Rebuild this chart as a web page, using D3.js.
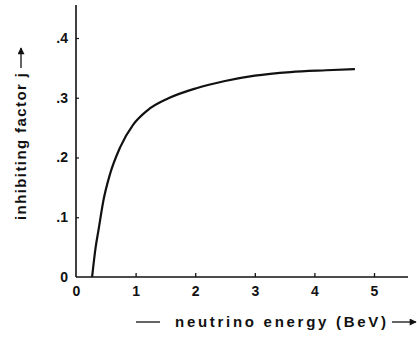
<html>
<style>
body { margin: 0; background: #fff; }
text { font-family: "Liberation Sans", Arial, sans-serif; fill: #111; }
</style>
<body>
<script src="https://d3js.org/d3.v7.min.js"></script>
<svg id="chart" width="417" height="344"></svg>
<script>
// neutrino energy (BeV) vs inhibiting factor j
var energy = [0.27, 0.33, 0.38, 0.46, 0.57, 0.74, 0.96, 1.2, 1.55, 2.02, 2.5, 3.0, 3.6, 4.2, 4.68];
var factor = [0.0, 0.05, 0.08, 0.128, 0.172, 0.217, 0.255, 0.279, 0.299, 0.316, 0.328, 0.337, 0.343, 0.346, 0.348];
var xTicks = [0, 1, 2, 3, 4, 5];
var yTicks = [0, 0.1, 0.2, 0.3, 0.4];
var yTickLabels = ["0", ".1", ".2", ".3", ".4"];

var svg = d3.select("#chart");
var x = d3.scaleLinear().domain([0, 5]).range([76, 374]);
var y = d3.scaleLinear().domain([0, 0.4]).range([277, 38]);

// axes lines
svg.append("line").attr("x1", 76).attr("x2", 408).attr("y1", y(0)).attr("y2", y(0))
  .attr("stroke", "#111").attr("stroke-width", 1.6);
svg.append("line").attr("x1", x(0)).attr("x2", x(0)).attr("y1", 5).attr("y2", y(0))
  .attr("stroke", "#111").attr("stroke-width", 1.6);

// x ticks
var xAxis = d3.axisBottom(x).tickValues(xTicks).tickSize(-4).tickFormat(d3.format("d"));
var gx = svg.append("g").attr("transform", "translate(0," + y(0) + ")").call(xAxis);
gx.select(".domain").remove();
gx.selectAll(".tick line").attr("stroke", "#111").attr("stroke-width", 1.3)
  .style("display", function(d) { return d == 0 ? "none" : null; });
gx.selectAll(".tick text").attr("y", 9).attr("font-size", 14).attr("font-weight", "bold")
  .attr("fill", "#111").attr("font-family", "Liberation Sans, Arial, sans-serif");

// y ticks
var yAxis = d3.axisLeft(y).tickValues(yTicks).tickSize(-3)
  .tickFormat(function(d, i) { return yTickLabels[i]; });
var gy = svg.append("g").attr("transform", "translate(" + x(0) + ",0)").call(yAxis);
gy.select(".domain").remove();
gy.selectAll(".tick line").attr("stroke", "#111").attr("stroke-width", 1.2)
  .style("display", function(d) { return d == 0 ? "none" : null; });
gy.selectAll(".tick text").attr("x", -8).attr("font-size", 14).attr("font-weight", "bold")
  .attr("fill", "#111").attr("font-family", "Liberation Sans, Arial, sans-serif");

// curve
var line = d3.line()
  .x(function(d, i) { return x(energy[i]); })
  .y(function(d) { return y(d); })
  .curve(d3.curveMonotoneX);
svg.append("path").datum(factor).attr("d", line)
  .attr("fill", "none").attr("stroke", "#111").attr("stroke-width", 2.2);

// arrow marker
svg.append("defs").append("marker").attr("id", "arr")
  .attr("viewBox", "0 0 10 10").attr("refX", 9).attr("refY", 5)
  .attr("markerWidth", 9).attr("markerHeight", 7).attr("markerUnits", "userSpaceOnUse")
  .attr("orient", "auto")
  .append("path").attr("d", "M0,0L10,5L0,10z").attr("fill", "#111");

// x label
svg.append("line").attr("x1", 136).attr("x2", 160).attr("y1", 322).attr("y2", 322)
  .attr("stroke", "#111").attr("stroke-width", 1.3);
svg.append("text").attr("x", 175).attr("y", 327).attr("font-size", 15).attr("font-weight", "bold")
  .attr("textLength", 211)
  .text("neutrino  energy (BeV)");
svg.append("line").attr("x1", 392).attr("x2", 416).attr("y1", 322).attr("y2", 322)
  .attr("stroke", "#111").attr("stroke-width", 1.3).attr("marker-end", "url(#arr)");

// y label
svg.append("text").attr("transform", "translate(26,220) rotate(-90)")
  .attr("font-size", 15).attr("font-weight", "bold").attr("textLength", 147)
  .text("inhibiting  factor  j");
svg.append("line").attr("x1", 21).attr("x2", 21).attr("y1", 68).attr("y2", 48)
  .attr("stroke", "#111").attr("stroke-width", 1.3).attr("marker-end", "url(#arr)");
</script>
</body>
</html>
